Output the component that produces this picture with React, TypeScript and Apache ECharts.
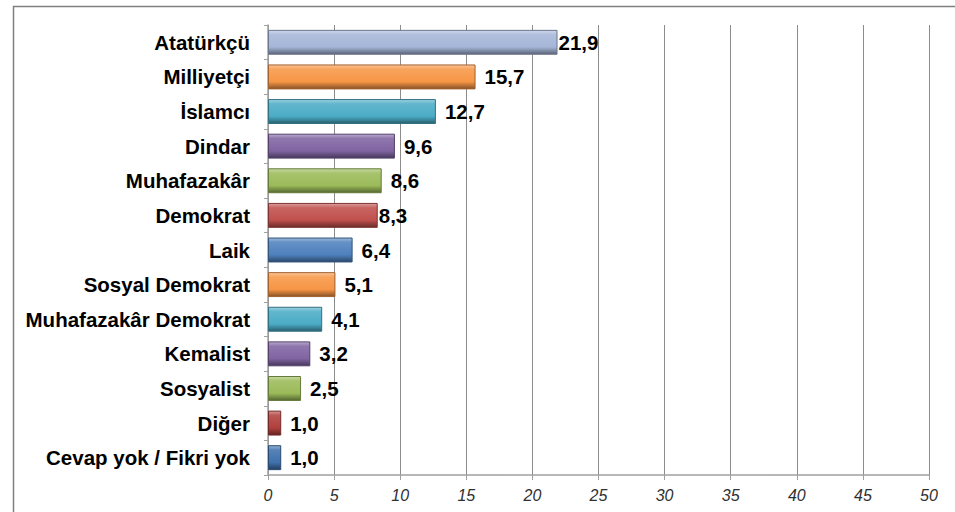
import React, { useEffect, useRef } from "react";
import * as echarts from "echarts";

const categories = [
  "Atatürkçü",
  "Milliyetçi",
  "İslamcı",
  "Dindar",
  "Muhafazakâr",
  "Demokrat",
  "Laik",
  "Sosyal Demokrat",
  "Muhafazakâr Demokrat",
  "Kemalist",
  "Sosyalist",
  "Diğer",
  "Cevap yok / Fikri yok",
];

const values = [21.9, 15.7, 12.7, 9.6, 8.6, 8.3, 6.4, 5.1, 4.1, 3.2, 2.5, 1.0, 1.0];

const barColors = [
  "#a6b6d8",
  "#f79646",
  "#4bacc6",
  "#8064a2",
  "#9bbb59",
  "#c0504d",
  "#4f81bd",
  "#f79646",
  "#4bacc6",
  "#8064a2",
  "#9bbb59",
  "#b0403d",
  "#3f71ad",
];

const xTicks = [0, 5, 10, 15, 20, 25, 30, 35, 40, 45, 50];

function shade(hex: string, f: number): string {
  const n = parseInt(hex.slice(1), 16);
  let r = (n >> 16) & 255;
  let g = (n >> 8) & 255;
  let b = n & 255;
  if (f >= 0) {
    r = Math.round(r + (255 - r) * f);
    g = Math.round(g + (255 - g) * f);
    b = Math.round(b + (255 - b) * f);
  } else {
    r = Math.round(r * (1 + f));
    g = Math.round(g * (1 + f));
    b = Math.round(b * (1 + f));
  }
  return "#" + ((1 << 24) + (r << 16) + (g << 8) + b).toString(16).slice(1);
}

const FONT = "'Liberation Sans', Arial, sans-serif";

export default function App() {
  const ref = useRef<HTMLDivElement>(null);

  useEffect(() => {
    if (!ref.current) return;
    const chart = echarts.init(ref.current, null, { renderer: "svg" });

    const data = values.map((v, i) => {
      const c = barColors[i];
      return {
        value: v,
        itemStyle: {
          color: new echarts.graphic.LinearGradient(0, 0, 0, 1, [
            { offset: 0, color: shade(c, 0.45) },
            { offset: 0.18, color: shade(c, 0.12) },
            { offset: 0.7, color: c },
            { offset: 1, color: shade(c, -0.45) },
          ]),
          borderColor: shade(c, -0.35),
          borderWidth: 1,
        },
        label: { distance: i === 0 || i === 5 ? 1 : 9 },
      };
    });

    chart.setOption({
      animation: false,
      backgroundColor: "#ffffff",
      textStyle: { fontFamily: FONT },
      graphic: [
        {
          type: "rect",
          shape: { x: 13.5, y: 6.5, width: 1000, height: 600 },
          style: { fill: "none", stroke: "#808080", lineWidth: 1.5 },
          silent: true,
        },
      ],
      grid: { left: 268, right: 26, top: 25, bottom: 37, containLabel: false },
      xAxis: {
        type: "value",
        min: xTicks[0],
        max: xTicks[xTicks.length - 1],
        interval: 5,
        axisLine: { show: true, lineStyle: { color: "#a0a0a0", width: 1.5 } },
        axisTick: { show: true, length: 5, lineStyle: { color: "#a0a0a0" } },
        splitLine: { show: true, lineStyle: { color: "#8c8c8c", width: 1 } },
        axisLabel: {
          fontSize: 16,
          fontStyle: "italic",
          color: "#303030",
          margin: 12,
          fontFamily: FONT,
        },
      },
      yAxis: {
        type: "category",
        data: categories,
        inverse: true,
        axisLine: { show: true, lineStyle: { color: "#a0a0a0", width: 1.5 } },
        axisTick: { show: true, length: 4, lineStyle: { color: "#a0a0a0" } },
        axisLabel: {
          fontSize: 20.5,
          fontWeight: "bold",
          color: "#000000",
          margin: 18,
          fontFamily: FONT,
        },
      },
      series: [
        {
          type: "bar",
          data,
          barCategoryGap: "28%",
          label: {
            show: true,
            position: "right",
            fontSize: 20.5,
            fontWeight: "bold",
            color: "#000000",
            fontFamily: FONT,
            formatter: (p: any) => Number(p.value).toFixed(1).replace(".", ","),
          },
        },
      ],
    });

    return () => chart.dispose();
  }, []);

  return (
    <div
      ref={ref}
      style={{ position: "fixed", left: 0, top: 0, width: 955, height: 512 }}
    />
  );
}
